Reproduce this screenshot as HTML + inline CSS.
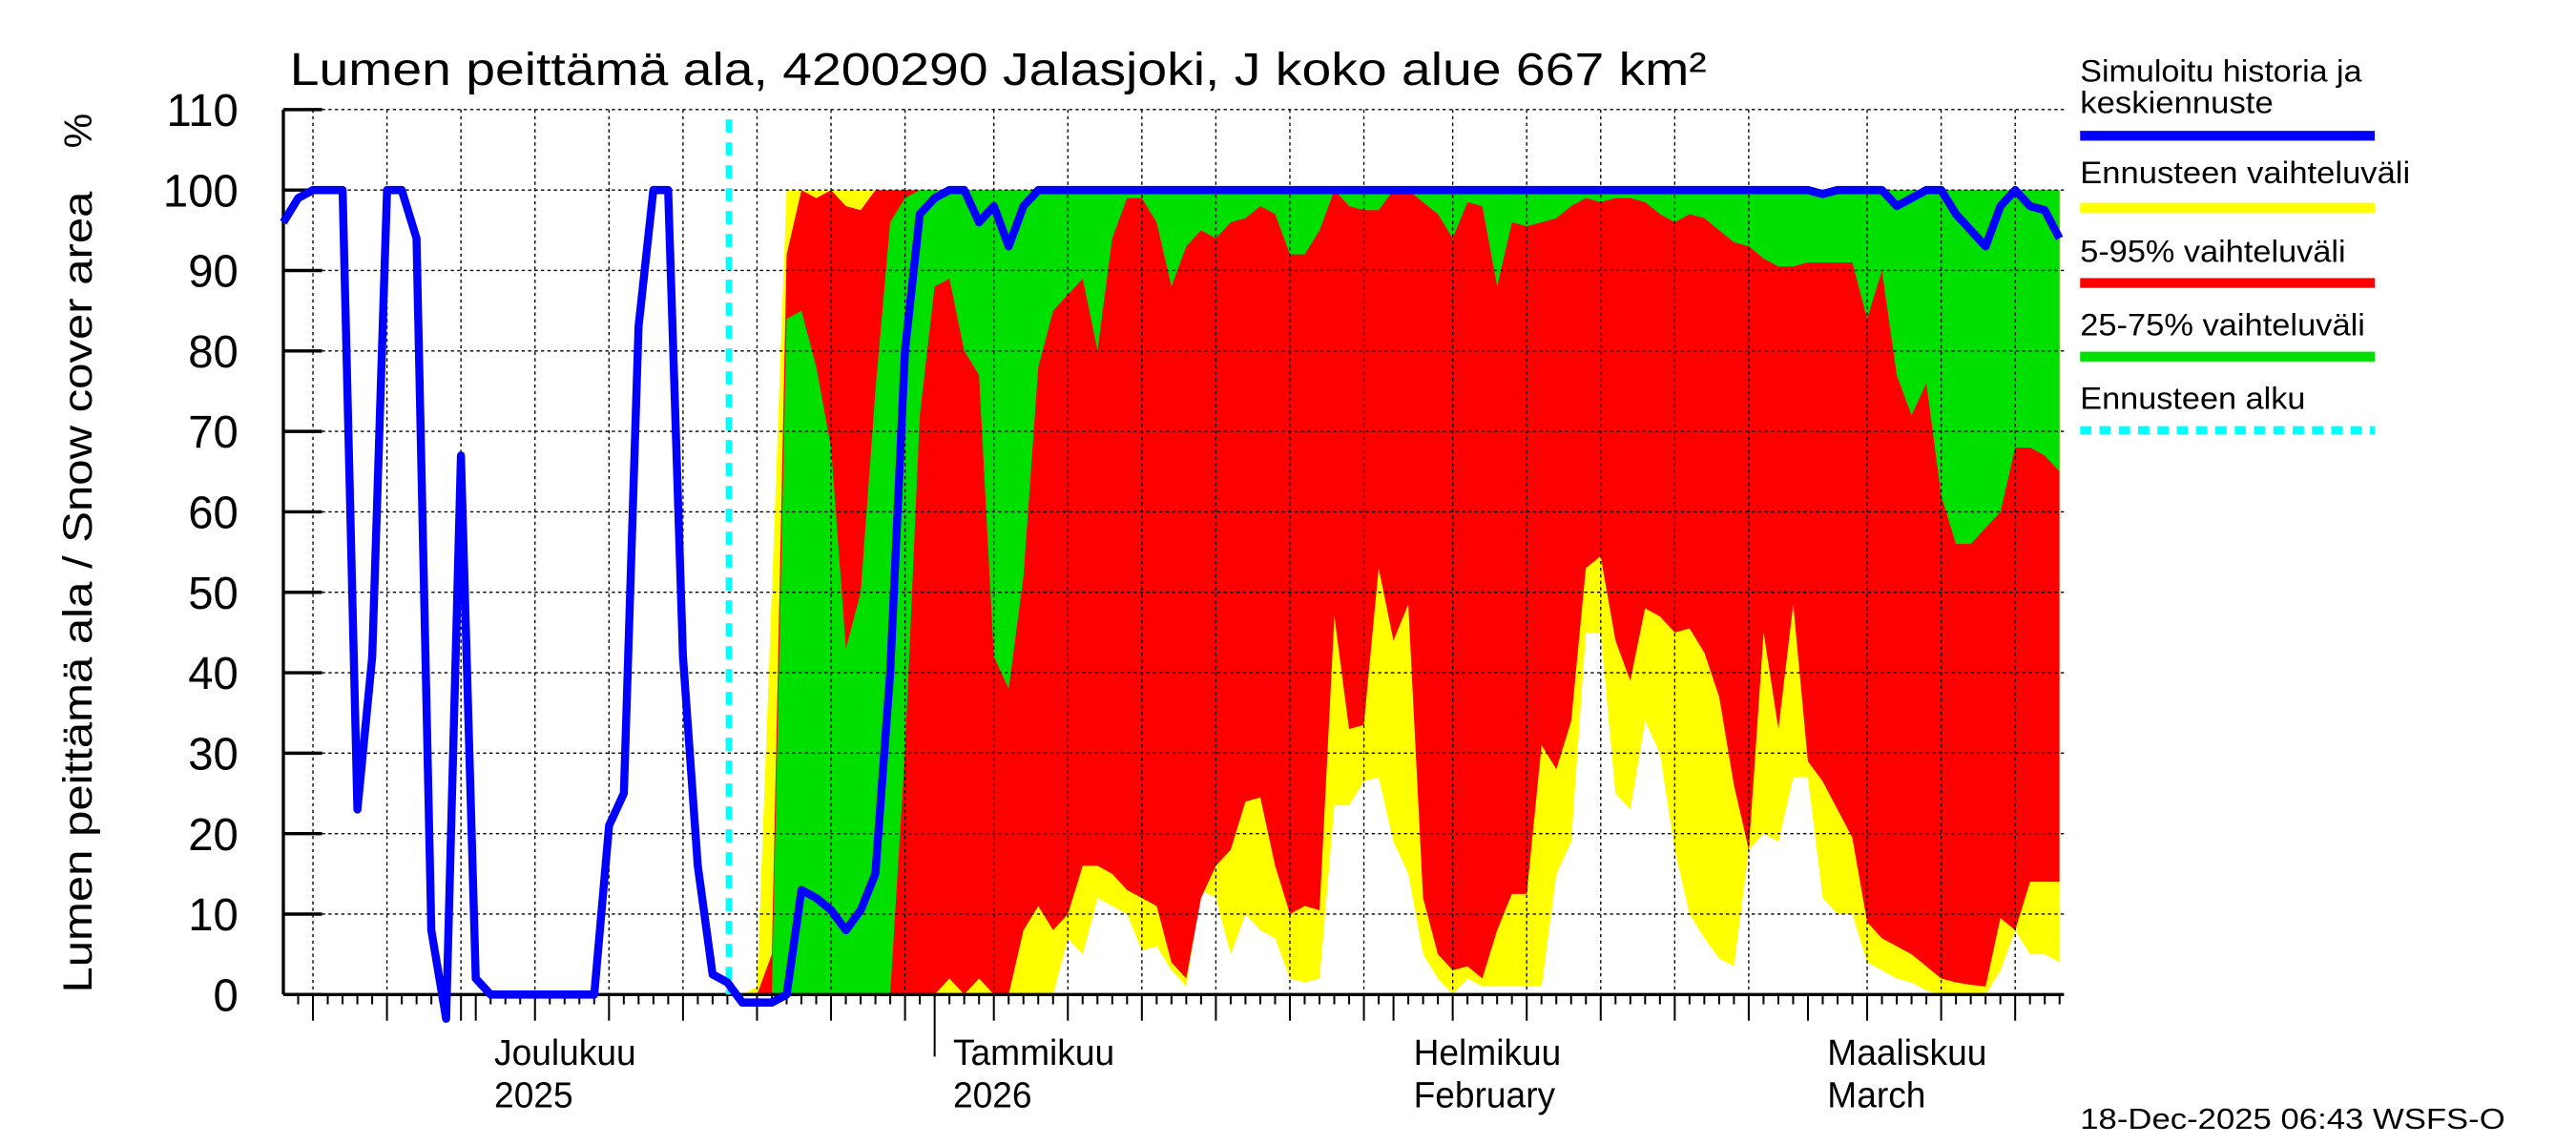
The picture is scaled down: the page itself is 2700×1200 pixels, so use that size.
<!DOCTYPE html>
<html><head><meta charset="utf-8"><style>
html,body{margin:0;padding:0;background:#fff;}
svg{display:block;font-family:"Liberation Sans",sans-serif;}
</style></head><body>
<svg id="chart" width="2700" height="1200" viewBox="0 0 1600 700" preserveAspectRatio="none" xmlns="http://www.w3.org/2000/svg">
<rect x="0" y="0" width="1600" height="700" fill="#fff"/>
<text x="180" y="52" font-size="28" textLength="880" lengthAdjust="spacingAndGlyphs">Lumen peittämä ala, 4200290 Jalasjoki, J koko alue 667 km²</text>
<text x="0" y="0" font-size="24" transform="translate(57,80) rotate(-90)" text-anchor="middle">%</text>
<text x="0" y="0" font-size="25" transform="translate(57,362) rotate(-90)" text-anchor="middle" textLength="490" lengthAdjust="spacingAndGlyphs">Lumen peittämä ala / Snow cover area</text>
<g id="bands"></g>
<g id="grid"></g>
<g id="axes"></g>
<g id="series"></g>
<g font-size="19">
<text x="1292" y="50" textLength="175" lengthAdjust="spacingAndGlyphs">Simuloitu historia ja</text>
<text x="1292" y="69" textLength="120" lengthAdjust="spacingAndGlyphs">keskiennuste</text>
<rect x="1292" y="80" width="183" height="6" fill="#0000ff"/>
<text x="1292" y="112" textLength="205" lengthAdjust="spacingAndGlyphs">Ennusteen vaihteluväli</text>
<rect x="1292" y="124" width="183" height="6" fill="#ffff00"/>
<text x="1292" y="160" textLength="165" lengthAdjust="spacingAndGlyphs">5-95% vaihteluväli</text>
<rect x="1292" y="170" width="183" height="6" fill="#ff0000"/>
<text x="1292" y="205" textLength="177" lengthAdjust="spacingAndGlyphs">25-75% vaihteluväli</text>
<rect x="1292" y="215" width="183" height="6" fill="#00e000"/>
<text x="1292" y="250" textLength="140" lengthAdjust="spacingAndGlyphs">Ennusteen alku</text>
<line x1="1292" y1="263" x2="1475" y2="263" stroke="#00ffff" stroke-width="5" stroke-dasharray="7,5"/>
</g>
<g font-size="22">
<text x="307" y="651">Joulukuu</text>
<text x="307" y="677">2025</text>
<text x="592" y="651">Tammikuu</text>
<text x="592" y="677">2026</text>
<text x="878" y="651">Helmikuu</text>
<text x="878" y="677">February</text>
<text x="1135" y="651">Maaliskuu</text>
<text x="1135" y="677">March</text>
</g>
<text x="1292" y="690" font-size="18" textLength="264" lengthAdjust="spacingAndGlyphs">18-Dec-2025 06:43 WSFS-O</text>
</svg>
<script>
// Day 0 = 18 Nov 2025
const yTicks = [0,10,20,30,40,50,60,70,80,90,100,110];
const gridDays = [2,7,12,17,22,27,32,37,42,48,53,58,63,68,73,79,84,89,94,99,107,112,117];
const monthDays = [13,44,75,103];
const forecastStartDay = 30.1;
const fcStart = 30;
const history = [96,99,100,100,100,23,42,100,100,94,8,-3,67,2,0,0,0,0,0,0,0,0,21,25,83,100,100,42,16,2.5,1.5,-1,-1,-1,0,13,12,10.5,8,10.5,15,40,80,97,99,100,100,96,98,93,98,100,100,100,100,100,100,100,100,100,100,100,100,100,100,100,100,100,100,100,100,100,100,100,100,100,100,100,100,100,100,100,100,100,100,100,100,100,100,100,100,100,100,100,100,100,100,100,100,100,100,100,100,100,99.5,100,100,100,100,98,99,100,100,97,95,93,98,100,98,97.5,94];
// forecast bands, day 30..120
const yMax = [0,0,1,50,100,100,100,100,100,100,100,100,100,100,100,100,100,100,100,100,100,100,100,100,100,100,100,100,100,100,100,100,100,100,100,100,100,100,100,100,100,100,100,100,100,100,100,100,100,100,100,100,100,100,100,100,100,100,100,100,100,100,100,100,100,100,100,100,100,100,100,100,100,100,100,100,100,100,100,100,100,100,100,100,100,100,100,100,100,100,100];
const p95 = [0,0,0,5,92,100,99,100,98,97.5,100,100,100,100,100,100,100,100,100,100,100,100,100,100,100,100,100,100,100,100,100,100,100,100,100,100,100,100,100,100,100,100,100,100,100,100,100,100,100,100,100,100,100,100,100,100,100,100,100,100,100,100,100,100,100,100,100,100,100,100,100,100,100,100,100,100,100,100,100,100,100,100,100,100,100,100,100,100,100,100,100];
const p75 = [0,0,0,0,84,85,78,68,43,50,75,96,99,100,100,100,100,100,100,100,100,100,100,100,100,100,100,100,100,100,100,100,100,100,100,100,100,100,100,100,100,100,100,100,100,100,100,100,100,100,100,100,100,100,100,100,100,100,100,100,100,100,100,100,100,100,100,100,100,100,100,100,100,100,100,100,100,100,100,100,100,100,100,100,100,100,100,100,100,100,100];
const p25 = [0,0,0,0,0,0,0,0,0,0,0,0,30,72,88,89,80,77,42,38,52,78,85,87,89,80,94,99,99,96,88,93,95,94,96,96.5,98,97,92,92,95,100,98,97.5,97.5,100,100,98.5,97,94,98.5,98,88,96,95.5,96,96.5,98,99,98.5,99,99,98.5,97,96,97,96.5,95,93.5,93,91.5,90.5,90.5,91,91,91,91,84,90,77,72,76,62,56,56,58,60,68,68,67,65];
const p05 = [0,0,0,0,0,0,0,0,0,0,0,0,0,0,0,2,0,2,0,0,8,11,8,10,16,16,15,13,12,11,4,2,12,16,18,24,24.5,16,10,11,10.5,47,33,33.5,53,44,48.5,12,5,3,3.5,2,8,12.5,12.5,31,28,34,53,54.5,44,39,48,47,45,45.5,42.5,37,26,18,45,33,48.5,29,26.5,23,19.5,9,7,6,5,3.5,2,1.5,1.2,1,9.5,8,14,14,14];
const yMin = [0,0,0,0,0,0,0,0,0,0,0,0,0,0,0,0,0,0,0,0,0,0,0,7,5,12,11,10,5.5,6,3,1,13,12,5,10,8,7,2,1.5,2,23.5,23.5,26.5,27,19,15,5,2,0,2,1,1,1,1,1,15,19,45,45,25,23,34,30,18,10,7,4.5,3.5,18,20,19,27,27,12,10,10,4,3,2,1.5,0.5,0,0,0,0,3,8,5,5,4];

const X0=176, X1=1282, Y0=608, Y1=67, NDAYS=120.3;
const xs = d => X0 + d*(X1-X0)/NDAYS;
const ys = v => Y0 - v*(Y0-Y1)/110;
const NS='http://www.w3.org/2000/svg';
function mk(tag, parent, attrs){const e=document.createElementNS(NS,tag);for(const k in attrs)e.setAttribute(k,attrs[k]);parent.appendChild(e);return e;}

const bands=document.getElementById('bands');
function band(top,bot,color,name){
  let pts=[];
  for(let i=0;i<top.length;i++)pts.push(xs(fcStart+i).toFixed(1)+','+ys(top[i]).toFixed(1));
  for(let i=bot.length-1;i>=0;i--)pts.push(xs(fcStart+i).toFixed(1)+','+ys(bot[i]).toFixed(1));
  const p=mk('polygon',bands,{points:pts.join(' '),fill:color});
  
  
}
band(yMax,yMin,'#ffff00','band-range');
band(p95,p05,'#ff0000','band-5-95');
band(p75,p25,'#00e000','band-25-75');

const grid=document.getElementById('grid');
yTicks.forEach(v=>{
  if(v>0){const l=mk('line',grid,{x1:X0,x2:X1,y1:ys(v),y2:ys(v),stroke:'#000','stroke-width':0.8,'stroke-dasharray':'2,2'});
  
  }
});
gridDays.forEach(d=>{
  const l=mk('line',grid,{x1:xs(d),x2:xs(d),y1:Y1,y2:Y0,stroke:'#000','stroke-width':0.8,'stroke-dasharray':'2,2'});
  
  
});

const axes=document.getElementById('axes');
const yax=mk('line',axes,{x1:X0,x2:X0,y1:Y1,y2:Y0,stroke:'#000','stroke-width':2});


const xax=mk('line',axes,{x1:X0,x2:X1,y1:Y0,y2:Y0,stroke:'#000','stroke-width':2});


yTicks.forEach(v=>{
  const t=mk('line',axes,{x1:X0,x2:X0+24,y1:ys(v),y2:ys(v),stroke:'#000','stroke-width':2});
  
  
  const tx=mk('text',axes,{x:148,y:ys(v)+10,'font-size':28,'text-anchor':'end'});
  tx.textContent=v;
  
  
});
for(let d=1;d<=120;d++){
  let len=6;
  if(gridDays.includes(d))len=16;
  if(monthDays.includes(d))len=16;
  if(d===44)len=38;
  const t=mk('line',axes,{x1:xs(d),x2:xs(d),y1:Y0,y2:Y0+len,stroke:'#000','stroke-width':1.2});
  
  
}

const series=document.getElementById('series');
const cy=mk('line',series,{x1:xs(forecastStartDay),x2:xs(forecastStartDay),y1:Y1+6,y2:Y0,stroke:'#00ffff','stroke-width':4,'stroke-dasharray':'8,6'});


const lp=history.map((v,i)=>xs(i).toFixed(1)+','+ys(v).toFixed(1)).join(' ');
const pl=mk('polyline',series,{points:lp,fill:'none',stroke:'#0000ff','stroke-width':5,'stroke-linejoin':'round'});


</script>
</body></html>
